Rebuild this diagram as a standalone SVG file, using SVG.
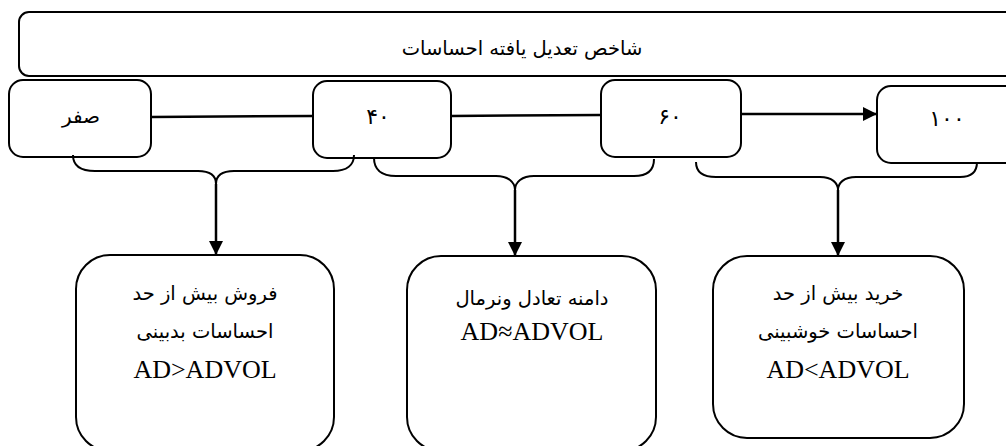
<svg xmlns="http://www.w3.org/2000/svg" width="1006" height="446" viewBox="0 0 1006 446">
<style>
.box{fill:#fff;stroke:#000;stroke-width:2}
.fa{font-family:"DejaVu Sans","Noto Sans",sans-serif;fill:#000;text-anchor:middle}
.la{font-family:"Liberation Serif","Times New Roman",serif;fill:#000;text-anchor:middle;font-size:26px}
.ln{fill:none;stroke:#000;stroke-width:2.5}
.br{fill:none;stroke:#000;stroke-width:2}
</style>
<defs>
<marker id="ah" viewBox="0 0 10 10" refX="10" refY="5" markerUnits="userSpaceOnUse" markerWidth="15" markerHeight="14" orient="auto">
<path d="M0,0 L10,5 L0,10 Z" fill="#000"/>
</marker>
</defs>
<g id="title">
<rect class="box" x="19" y="12" width="1000" height="64" rx="10"/>
<text class="fa" x="522" y="55" font-size="19.5" direction="rtl">شاخص تعدیل یافته احساسات</text>
</g>
<g id="n0">
<rect class="box" x="9" y="80" width="142" height="77" rx="14"/>
<text class="fa" x="81" y="123" font-size="20" direction="rtl">صفر</text>
</g>
<g id="n40">
<rect class="box" x="313" y="81" width="138" height="77" rx="14"/>
<text class="fa" x="378" y="124" font-size="22" direction="rtl">۴۰</text>
</g>
<g id="n60">
<rect class="box" x="601" y="80" width="140" height="77" rx="14"/>
<text class="fa" x="670" y="124" font-size="22" direction="rtl">۶۰</text>
</g>
<g id="n100">
<rect class="box" x="877" y="86" width="150" height="77" rx="14"/>
<text class="fa" x="947" y="126" font-size="22" direction="rtl">۱۰۰</text>
</g>
<g id="sell">
<rect class="box" x="76" y="255" width="258" height="196" rx="34"/>
<text class="fa" x="205" y="300" font-size="19.5" direction="rtl">فروش بیش از حد</text>
<text class="fa" x="205" y="338" font-size="19.5" direction="rtl">احساسات بدبینی</text>
<text class="la" x="205" y="378">AD&gt;ADVOL</text>
</g>
<g id="normal">
<rect class="box" x="407" y="256" width="249" height="195" rx="34"/>
<text class="fa" x="532" y="305" font-size="19.5" direction="rtl">دامنه تعادل ونرمال</text>
<text class="la" x="532" y="340">AD≈ADVOL</text>
</g>
<g id="buy">
<rect class="box" x="713" y="256" width="251" height="182" rx="34"/>
<text class="fa" x="838" y="300" font-size="19.5" direction="rtl">خرید بیش از حد</text>
<text class="fa" x="838" y="338" font-size="19.5" direction="rtl">احساسات خوشبینی</text>
<text class="la" x="838" y="378">AD&lt;ADVOL</text>
</g>
<g id="connectors">
<line class="ln" x1="151" y1="117" x2="313" y2="116"/>
<line class="ln" x1="451" y1="116" x2="601" y2="115"/>
<line class="ln" x1="741" y1="114" x2="877" y2="114" marker-end="url(#ah)"/>
<path class="br" d="M73,155 C73,165 80,171 95,171 L198,171 C210,171 216,176 216,184 C216,176 222,171 234,171 L333,171 C347,171 354,165 354,155"/>
<path class="br" d="M374,158 C374,169 381,176 396,176 L496,176 C508,176 515,182 515,190 C515,182 522,176 534,176 L634,176 C647,176 654,170 654,159"/>
<path class="br" d="M696,162 C696,172 703,177 716,177 L820,177 C832,177 838,183 838,190 C838,183 844,177 856,177 L960,177 C971,177 977,172 977,162"/>
<line class="ln" x1="216" y1="184" x2="216" y2="255" marker-end="url(#ah)"/>
<line class="ln" x1="515" y1="190" x2="515" y2="256" marker-end="url(#ah)"/>
<line class="ln" x1="838" y1="190" x2="838" y2="256" marker-end="url(#ah)"/>
</g>
</svg>
